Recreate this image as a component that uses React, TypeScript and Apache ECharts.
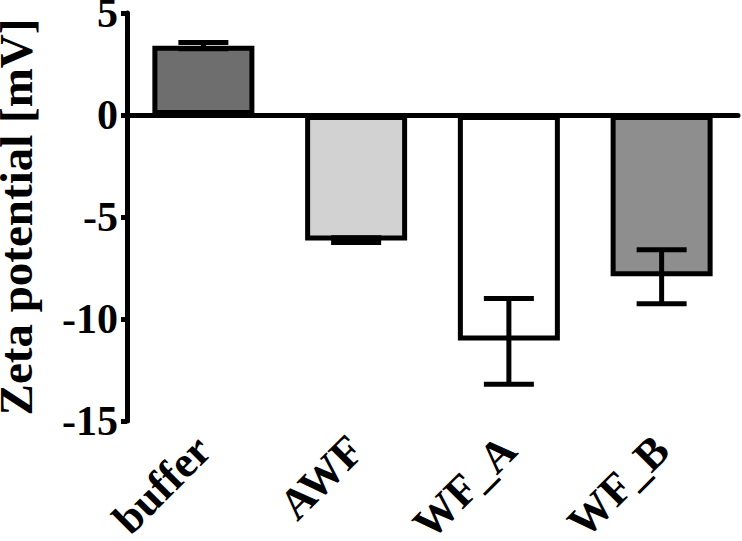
import React, { useEffect, useRef } from "react";
import * as echarts from "echarts";

const categories = ["buffer", "AWF", "WF_A", "WF_B"];
const means = [3.4, -6.15, -11.05, -7.9];
const errLow = [3.25, -6.25, -13.2, -9.25];
const errHigh = [3.55, -6.02, -9.0, -6.6];
const barColors = ["#6e6e6e", "#d2d2d2", "#ffffff", "#8e8e8e"];
const yTicks = { min: -15, max: 5, interval: 5 };

const FONT = "'Liberation Serif', 'Times New Roman', serif";

export default function App() {
  const ref = useRef<HTMLDivElement>(null);
  useEffect(() => {
    if (!ref.current) return;
    const chart = echarts.init(ref.current, null, { renderer: "svg" });
    chart.setOption({
      animation: false,
      backgroundColor: "#ffffff",
      grid: { left: 127, right: 4, top: 13, bottom: 120, containLabel: false, outerBoundsMode: "none" },
      xAxis: {
        type: "category",
        data: categories,
        axisLine: { lineStyle: { color: "#000", width: 5 } },
        axisTick: { alignWithLabel: true, length: 6, lineStyle: { color: "#000", width: 5 } },
        axisLabel: {
          rotate: 45,
          margin: 22,
          color: "#000",
          fontFamily: FONT,
          fontWeight: "bold",
          fontSize: 44,
        },
      },
      yAxis: {
        type: "value",
        min: yTicks.min,
        max: yTicks.max,
        interval: yTicks.interval,
        name: "Zeta potential [mV]",
        nameLocation: "middle",
        nameGap: 88,
        nameTextStyle: { color: "#000", fontFamily: FONT, fontWeight: "bold", fontSize: 47 },
        axisLine: { show: true, lineStyle: { color: "#000", width: 5 } },
        axisTick: { show: true, length: 6, lineStyle: { color: "#000", width: 5 } },
        splitLine: { show: false },
        axisLabel: {
          margin: 9,
          color: "#000",
          fontFamily: FONT,
          fontWeight: "bold",
          fontSize: 42,
        },
      },
      series: [
        {
          type: "bar",
          barWidth: 102,
          data: means.map((v, i) => ({
            value: v,
            itemStyle: { color: barColors[i], borderColor: "#000", borderWidth: 5 },
          })),
          markLine: {
            silent: true,
            symbol: ["none", "none"],
            label: { show: false },
            lineStyle: { color: "#000", width: 5, type: "solid" },
            data: [{ yAxis: 0 }],
          },
          z: 2,
        },
        {
          type: "custom",
          z: 5,
          data: categories.map((_, i) => [i, errLow[i], errHigh[i]]),
          renderItem: (params: any, api: any) => {
            const x = api.value(0);
            const lo = api.coord([x, api.value(1)]);
            const hi = api.coord([x, api.value(2)]);
            const hw = 25;
            const style = { stroke: "#000", lineWidth: 5 };
            return {
              type: "group",
              children: [
                { type: "line", shape: { x1: lo[0], y1: lo[1], x2: hi[0], y2: hi[1] }, style },
                { type: "line", shape: { x1: lo[0] - hw, y1: lo[1], x2: lo[0] + hw, y2: lo[1] }, style },
                { type: "line", shape: { x1: hi[0] - hw, y1: hi[1], x2: hi[0] + hw, y2: hi[1] }, style },
              ],
            };
          },
        },
      ],
    });
    return () => chart.dispose();
  }, []);
  return (
    <div
      ref={ref}
      style={{ position: "fixed", left: 0, top: 0, width: 742, height: 541, background: "#fff" }}
    />
  );
}
